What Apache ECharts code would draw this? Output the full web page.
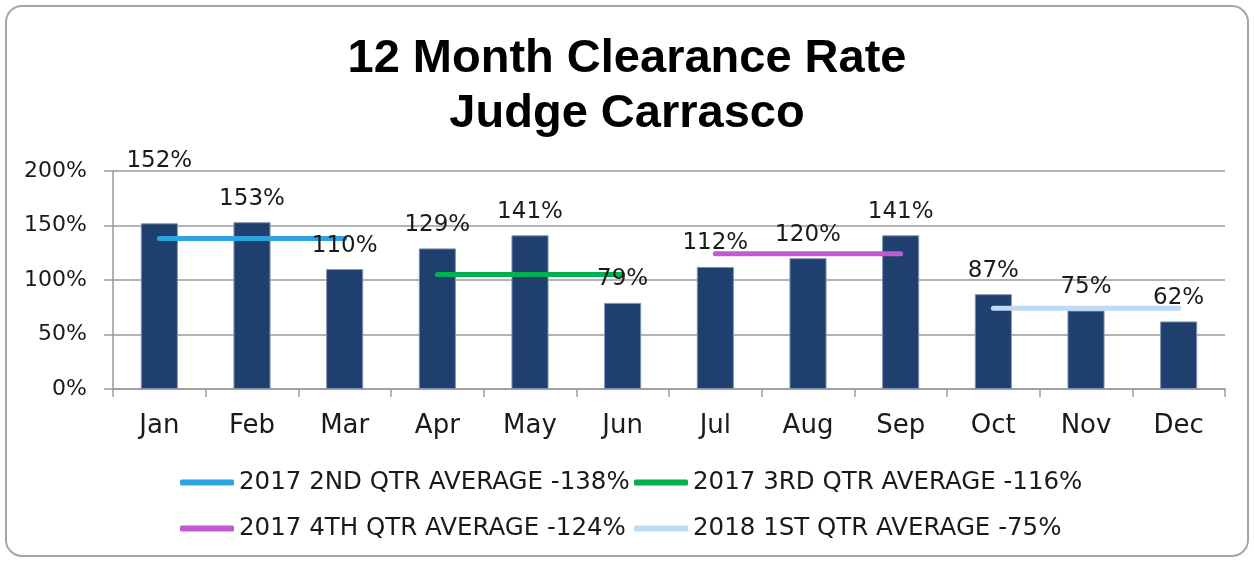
<!DOCTYPE html>
<html>
<head>
<meta charset="utf-8">
<script src="https://cdn.jsdelivr.net/npm/echarts@6/dist/echarts.min.js"></script>
<style>
  html, body { margin: 0; padding: 0; background: #fff; }
  #chart { width: 1254px; height: 562px; }
</style>
</head>
<body>
<div id="chart"></div>
<script>
const months = ['Jan', 'Feb', 'Mar', 'Apr', 'May', 'Jun', 'Jul', 'Aug', 'Sep', 'Oct', 'Nov', 'Dec'];
const clearance = [152, 153, 110, 129, 141, 79, 112, 120, 141, 87, 72, 62];
const clearanceLabels = ['152%', '153%', '110%', '129%', '141%', '79%', '112%', '120%', '141%', '87%', '75%', '62%'];
const quarterNames = [
    '2017 2ND QTR AVERAGE -138%',
    '2017 3RD QTR AVERAGE -116%',
    '2017 4TH QTR AVERAGE -124%',
    '2018 1ST QTR AVERAGE -75%'
];
const quarterLevels = [138, 105, 124, 74];
const quarterColors = ['#2EA3E0', '#00B050', '#C05CD0', '#BDDAF7'];
const yTicks = [0, 50, 100, 150, 200];

// excel moved the Jan label up by hand
const labelLift = { 0: -39 };

const font = 'DejaVu Sans';
const chart = echarts.init(document.getElementById('chart'));

const lineSeries = quarterNames.map((name, q) => ({
    name: name,
    type: 'line',
    symbol: 'none',
    z: 3,
    color: quarterColors[q],
    lineStyle: { width: 5, color: quarterColors[q], cap: 'round' },
    data: months.map((m, i) => (Math.floor(i / 3) === q ? quarterLevels[q] : '-'))
}));

// legend laid out as a 2x2 grid, one legend per entry
const legends = quarterNames.map((name, q) => ({
    data: [name],
    left: q % 2 === 0 ? 180 : 634,
    top: q < 2 ? 470 : 516,
    padding: 0,
    itemWidth: 54, itemHeight: 6, icon: 'roundRect',
    textStyle: { fontFamily: font, fontSize: 24.5, color: '#1a1a1a' }
}));

chart.setOption({
    animation: false,
    title: {
        text: '12 Month Clearance Rate\nJudge Carrasco',
        left: 'center',
        top: 27,
        textStyle: {
            fontFamily: 'Liberation Sans',
            fontSize: 47,
            fontWeight: 'bold',
            color: '#000',
            lineHeight: 55
        }
    },
    graphic: [{
        type: 'rect',
        shape: { x: 6, y: 6, width: 1242, height: 550, r: 16 },
        style: { fill: 'none', stroke: '#A6A6A6', lineWidth: 2 },
        silent: true
    }],
    legend: legends,
    grid: { left: 113, right: 29, top: 171, bottom: 173 },
    xAxis: {
        type: 'category',
        data: months,
        axisLine: { lineStyle: { color: '#9A9A9A', width: 1.5 } },
        axisTick: { show: true, length: 8, lineStyle: { color: '#9A9A9A', width: 1.5 } },
        axisLabel: { fontFamily: font, fontSize: 26, color: '#1a1a1a', margin: 24 }
    },
    yAxis: {
        type: 'value',
        min: yTicks[0],
        max: yTicks[yTicks.length - 1],
        interval: 50,
        axisLine: { show: true, lineStyle: { color: '#9A9A9A', width: 1.5 } },
        axisTick: { show: true, length: 9, lineStyle: { color: '#9A9A9A', width: 1.5 } },
        splitLine: { lineStyle: { color: '#9A9A9A', width: 1.5 } },
        axisLabel: { fontFamily: font, fontSize: 22, color: '#1a1a1a', margin: 26, formatter: '{value}%' }
    },
    series: [
        {
            type: 'bar',
            barWidth: '40%',
            z: 2,
            itemStyle: { color: '#1F3F6E', borderColor: '#8093B0', borderWidth: 1 },
            data: clearance
        },
        {
            // transparent copy so the value labels sit above the average lines
            type: 'bar',
            barWidth: '40%',
            barGap: '-100%',
            z: 5,
            silent: true,
            itemStyle: { color: 'rgba(0,0,0,0)' },
            label: {
                show: true,
                position: 'top',
                distance: 12,
                fontFamily: font,
                fontSize: 23,
                color: '#1a1a1a',
                formatter: (p) => clearanceLabels[p.dataIndex]
            },
            data: clearance.map((v, i) => (labelLift[i] ? { value: v, label: { offset: [0, labelLift[i]] } } : v))
        }
    ].concat(lineSeries)
});
</script>
</body>
</html>
